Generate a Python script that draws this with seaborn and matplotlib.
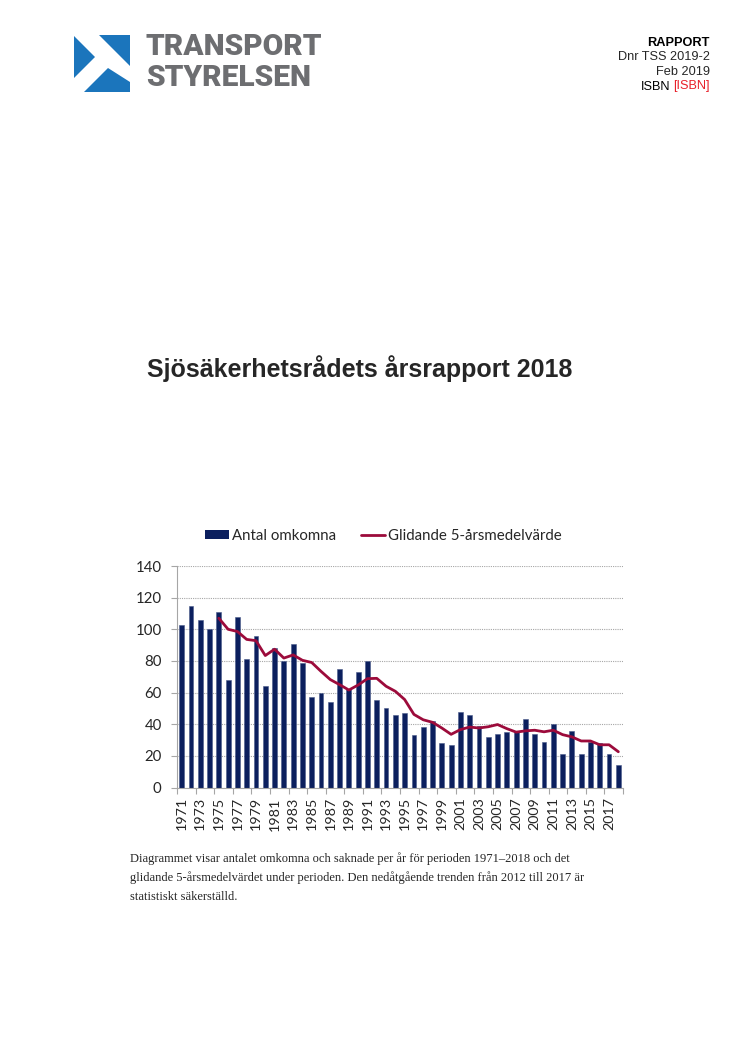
import numpy as np
import pandas as pd
import matplotlib
matplotlib.use("Agg")
import matplotlib.pyplot as plt
import seaborn as sns
from matplotlib.patches import Polygon, Patch
from matplotlib.lines import Line2D

# ---------------- data ----------------
years = list(range(1971, 2019))
omkomna = [103, 115, 106, 100, 111, 68, 108, 81, 96, 64,
           88, 80, 91, 79, 57, 60, 54, 75, 62, 73,
           80, 55, 50, 46, 47, 33, 38, 42, 28, 27,
           48, 46, 39, 32, 34, 35, 35, 43, 34, 29,
           40, 21, 36, 21, 29, 28, 21, 14]
# moving-average line (starts 1975)
line_years = list(range(1975, 2019))
glidande = [107.0, 100.0, 98.6, 93.6, 92.8, 83.4, 87.4, 81.8, 83.8, 80.4,
            79.0, 73.4, 68.2, 65.0, 61.6, 64.8, 68.8, 69.0, 64.0, 60.8,
            55.6, 46.2, 42.8, 41.2, 37.6, 33.6, 36.6, 38.2, 37.6, 38.4,
            39.8, 37.2, 35.0, 35.8, 36.2, 35.2, 36.2, 33.4, 32.0, 29.4,
            29.4, 27.0, 27.0, 22.6]
yticks = [0, 20, 40, 60, 80, 100, 120, 140]
legend_labels = ["Antal omkomna", "Glidande 5-årsmedelvärde"]
title = "Sjösäkerhetsrådets årsrapport 2018"
caption = ["Diagrammet visar antalet omkomna och saknade per år för perioden 1971–2018 och det",
           "glidande 5-årsmedelvärdet under perioden. Den nedåtgående trenden från 2012 till 2017 är",
           "statistiskt säkerställd."]
header = ["RAPPORT", "Dnr TSS 2019-2", "Feb 2019"]

BAR = "#0b1f5e"
LINE = "#9c0b3b"
GRID = "#a6a6a6"

sns.set_theme(style="white")
plt.rcParams["font.family"] = ["Lato", "DejaVu Sans"]

W, H = 746, 1056
fig = plt.figure(figsize=(W / 100, H / 100), dpi=100)
fig.patch.set_facecolor("white")

# ---------- page overlay (pixel coordinates) ----------
page = fig.add_axes([0, 0, 1, 1])
page.set_xlim(0, W)
page.set_ylim(H, 0)
page.axis("off")

# logo
blue = "#1b75bc"
for pts in [[(74, 36), (95, 57), (74, 78)],
            [(99, 35), (130, 35), (130, 66)],
            [(108, 68), (84, 92), (130, 92), (130, 82)]]:
    page.add_patch(Polygon(pts, closed=True, fc=blue, ec="none"))
page.text(146, 47, "TRANSPORT", fontsize=21.5, fontweight="heavy", color="#6d6e71",
          family=["Roboto", "DejaVu Sans"], ha="left", va="center")
page.text(146, 78, "STYRELSEN", fontsize=21.5, fontweight="heavy", color="#6d6e71",
          family=["Roboto", "DejaVu Sans"], ha="left", va="center")

hdr_font = ["Liberation Sans", "DejaVu Sans"]
HS = 9.2
page.text(710, 43, header[0], fontsize=HS, fontweight="bold", family=hdr_font,
          ha="right", va="center", color="black")
page.text(710, 57.5, header[1], fontsize=HS, family=hdr_font, ha="right", va="center")
page.text(710, 72, header[2], fontsize=HS, family=hdr_font, ha="right", va="center")
red_t = page.text(710, 86.5, "[ISBN]", fontsize=HS, family=hdr_font, ha="right",
                  va="center", color="#e8202a")
page.annotate("ISBN", xy=(0, 0.5), xycoords=red_t, xytext=(-2.5, 0),
              textcoords="offset points", fontsize=HS, family=hdr_font,
              ha="right", va="center", color="black")

page.text(147, 369, title, fontsize=18, fontweight="bold",
          family=["Liberation Sans", "DejaVu Sans"], ha="left", va="center")

for i, line in enumerate(caption):
    page.text(130, 859 + 19 * i, line, fontsize=9.0,
              family=["Liberation Serif", "DejaVu Serif"], ha="left", va="center")

# ---------- chart ----------
left, right, top, bottom = 177, 623, 566, 787.5
ax = fig.add_axes([left / W, 1 - bottom / H, (right - left) / W, (bottom - top) / H])
ax.set_facecolor("none")

df = pd.DataFrame({"year": [str(y) for y in years], "omkomna": omkomna})
sns.barplot(data=df, x="year", y="omkomna", color=BAR, width=0.52, ax=ax,
            saturation=1, edgecolor="#4a5a8a", linewidth=0.4, zorder=2)

pos = {str(y): i for i, y in enumerate(years)}
ldf = pd.DataFrame({"x": [pos[str(y)] for y in line_years], "v": glidande})
sns.lineplot(data=ldf, x="x", y="v", color=LINE, linewidth=2.0, ax=ax, zorder=3)

ax.set_xlim(-0.5, len(years) - 0.5)
ax.set_ylim(0, 140)
ax.set_yticks(yticks)
ax.set_yticklabels([str(t) for t in yticks], fontsize=10.8)
ax.yaxis.grid(True, linestyle=(0, (1, 1)), color=GRID, linewidth=0.8, zorder=0)
ax.set_axisbelow(True)

# tick marks at category boundaries (every 2), labels at every other category
ax.set_xticks(np.arange(-0.5, len(years), 2))
ax.set_xticklabels([])
ax.set_xticks(np.arange(0, len(years), 2), minor=True)
ax.set_xticklabels([str(y) for y in years[::2]], minor=True, rotation=90, fontsize=10.3)
ax.tick_params(axis="x", which="major", length=4, color=GRID, width=0.8, direction="out", bottom=True)
ax.tick_params(axis="x", which="minor", length=0, pad=7)
ax.tick_params(axis="y", length=4, color=GRID, width=0.8, direction="out", left=True, pad=7)

for s in ["top", "right"]:
    ax.spines[s].set_visible(False)
for s in ["left", "bottom"]:
    ax.spines[s].set_color(GRID)
    ax.spines[s].set_linewidth(0.8)
ax.set_xlabel("")
ax.set_ylabel("")

handles = [Patch(facecolor=BAR, edgecolor="none"),
           Line2D([0], [0], color=LINE, linewidth=2.0)]
fig.legend(handles, legend_labels, loc="center", bbox_to_anchor=(383.5 / W, 1 - 536 / H),
           ncol=2, frameon=False, fontsize=10.8, handlelength=1.6, handleheight=0.5,
           handletextpad=0.2, columnspacing=1.7)

fig.savefig("out.png", dpi=100, facecolor="white")
